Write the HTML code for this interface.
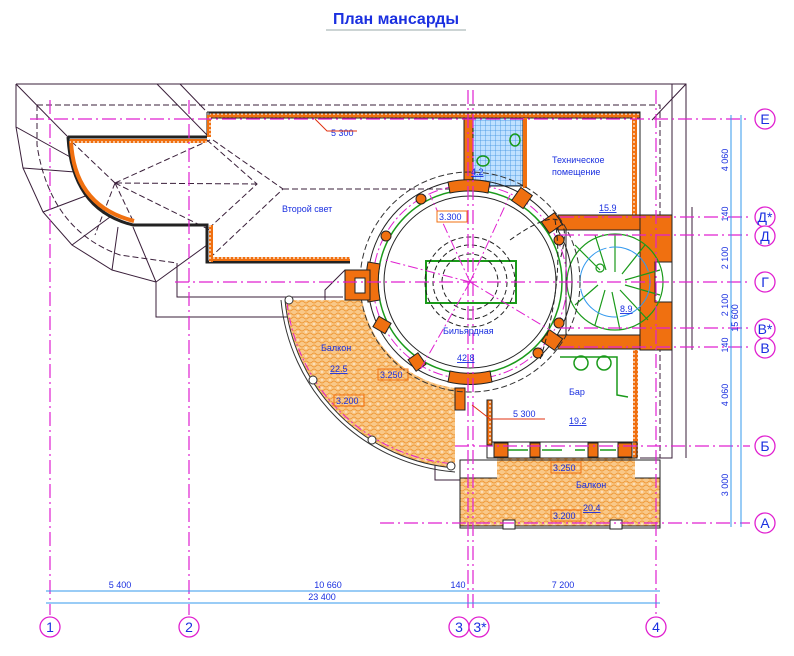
<!DOCTYPE html>
<html><head><meta charset="utf-8"><style>
html,body{margin:0;padding:0;background:#fff;}
svg{display:block;font-family:"Liberation Sans","DejaVu Sans",sans-serif;}
</style></head><body>
<svg width="794" height="656" viewBox="0 0 794 656" xmlns="http://www.w3.org/2000/svg">
<defs>
<pattern id="hat" width="8" height="8" patternUnits="userSpaceOnUse">
<rect width="8" height="8" fill="#f9c888"/>
<path d="M0,2 q2,-2 4,0 t4,0 M0,6 q2,2 4,0 t4,0" stroke="#ef9a3a" stroke-width="1" fill="none"/>
<circle cx="2" cy="4" r="0.7" fill="#fff"/>
</pattern>
<pattern id="grid" width="5" height="5" patternUnits="userSpaceOnUse">
<rect width="5" height="5" fill="#bfe0ff"/>
<path d="M0,0 H5 M0,0 V5" stroke="#3a8fe0" stroke-width="0.8"/>
</pattern>
<pattern id="wh" width="4" height="4" patternUnits="userSpaceOnUse">
<rect width="4" height="4" fill="#f07010"/><circle cx="2" cy="2" r="0.9" fill="#fff"/>
</pattern>
</defs>

<text x="396" y="24" font-size="16" font-weight="bold" fill="#1a2fe0" text-anchor="middle">План мансарды</text>
<line x1="326" y1="30" x2="466" y2="30" stroke="#9aa" stroke-width="1"/>

<!-- roof outline -->
<g fill="none" stroke="#3a1f3a" stroke-width="1">
<path d="M16,84 H686 V458 M16,84 V127 L23,168 L43,212 L72,245 L112,270 L156,282 V317 H325 V290 L345,270"/>
<path d="M16,84 L68,137 M157,84 L207,135 M180,84 L205,110 M686,84 L652,120 M156,282 L207,245"/>
<path d="M16,127 L72,158 M23,168 L75,172 M43,212 L88,195 M72,245 L110,217 M112,270 L118,227 M156,282 L133,227"/>
<path d="M177,263 V297 H343"/>
<path d="M435,458 V480 H460 M435,458 V425 H455"/>
<path d="M672,84 V215 M672,350 V458 H640 M692,207 V350"/>
</g>
<g fill="none" stroke="#3a1f3a" stroke-width="1" stroke-dasharray="6,3">
<path d="M37,105 H660 V458"/>
<path d="M37,105 L37,145 Q50,230 120,255 L177,263"/>
<path d="M207,140 L257,184 L207,230 M257,184 L115,183 M115,183 L70,140 M115,183 L95,235 M115,183 L135,225 M115,183 L210,140 M115,183 L210,230"/>
<path d="M213,140 L283,189 L213,255"/>
<path d="M283,189 H470"/>
</g>

<!-- main walls -->
<g stroke="#222" stroke-width="1">
<path d="M207,112 H640 V215 M207,112 V137 M640,112 V215" fill="none"/>
<rect x="209" y="113" width="431" height="5" fill="url(#wh)"/>
<path d="M68,137 H207 M68,137 Q72,210 133,225 H207 V262 H350" fill="none" stroke-width="3"/>
<path d="M71,141 Q74,206 134,221" fill="none" stroke="#f07010" stroke-width="4"/>
<rect x="70" y="139" width="137" height="4" fill="url(#wh)" stroke="none"/>
<rect x="209" y="225" width="4" height="37" fill="url(#wh)" stroke="none"/>
<rect x="213" y="257" width="137" height="4" fill="url(#wh)" stroke="none"/>
<rect x="207" y="115" width="4" height="22" fill="url(#wh)" stroke="none"/>
<rect x="632" y="115" width="5" height="100" fill="url(#wh)" stroke="none"/>
<rect x="633" y="350" width="5" height="108" fill="url(#wh)" stroke="none"/>
</g>

<rect x="473" y="118" width="50" height="68" fill="url(#grid)" stroke="#222"/>
<rect x="464" y="118" width="9" height="70" fill="#f07010" stroke="#222"/>
<rect x="523" y="118" width="4" height="70" fill="#f07010"/>
<ellipse cx="515" cy="140" rx="5" ry="6" fill="none" stroke="#1a9a1a" stroke-width="1.5"/>
<ellipse cx="483" cy="161" rx="6" ry="5" fill="none" stroke="#1a9a1a" stroke-width="1.5"/>

<!-- balcony left -->
<path d="M285,300 A186,186 0 0 0 455,468 L455,388 A108,108 0 0 1 362,300 Z" fill="url(#hat)" stroke="none"/>
<path d="M285,300 A186,186 0 0 0 455,468" fill="none" stroke="#333" stroke-width="1"/>
<path d="M281,300 A190,190 0 0 0 455,472" fill="none" stroke="#333" stroke-width="1"/>
<path d="M287,302 A183,183 0 0 0 455,464" fill="none" stroke="#e020d0" stroke-width="1" stroke-dasharray="8,3,2,3"/>
<circle cx="289" cy="300" r="4" fill="#fff" stroke="#333"/>
<circle cx="313" cy="380" r="4" fill="#fff" stroke="#333"/>
<circle cx="372" cy="440" r="4" fill="#fff" stroke="#333"/>
<circle cx="451" cy="466" r="4" fill="#fff" stroke="#333"/>

<!-- bottom balcony -->
<rect x="460" y="478" width="200" height="48" fill="url(#hat)" stroke="#222"/>
<rect x="497" y="458" width="138" height="22" fill="url(#hat)"/>
<rect x="460" y="460" width="200" height="68" fill="none" stroke="#222"/>
<rect x="503" y="520" width="12" height="9" fill="#fff" stroke="#222"/>
<rect x="610" y="520" width="12" height="9" fill="#fff" stroke="#222"/>

<g stroke="#222">
<rect x="487" y="442" width="150" height="16" fill="none"/>
<rect x="494" y="443" width="14" height="14" fill="#f07010"/>
<rect x="530" y="443" width="10" height="14" fill="#f07010"/>
<rect x="588" y="443" width="10" height="14" fill="#f07010"/>
<rect x="618" y="443" width="14" height="14" fill="#f07010"/>
<rect x="455" y="388" width="10" height="22" fill="#f07010"/>
<rect x="487" y="400" width="5" height="45" fill="url(#wh)"/>
</g>
<g stroke="#1a9a1a" stroke-width="1.5" fill="none">
<path d="M508,450 H528 M542,450 H562 M575,450 H585 M600,450 H616"/>
<circle cx="581" cy="363" r="7"/><circle cx="604" cy="363" r="7"/>
<path d="M560,357 H617 V395 L628,397"/>
</g>

<rect x="558" y="215" width="82" height="15" fill="#f07010" stroke="#222"/>
<rect x="558" y="335" width="82" height="14" fill="#f07010" stroke="#222"/>
<rect x="640" y="215" width="32" height="135" fill="#f07010" stroke="#222"/>
<rect x="566" y="230" width="74" height="105" fill="#fff" stroke="#222"/>
<rect x="655" y="262" width="17" height="40" fill="#fff" stroke="#222"/>
<g fill="none" stroke="#1a9a1a" stroke-width="1.2">
<circle cx="615" cy="282" r="48"/>
<circle cx="600" cy="268" r="4"/>
<path d="M615,234 L615,272 M645,245 L622,274 M660,270 L625,280 M660,295 L625,285 M648,320 L620,290 M620,330 L612,292 M595,325 L605,290 M575,305 L598,285 M575,245 L600,270 M595,235 L606,270"/>
</g>
<circle cx="615" cy="282" r="35" fill="none" stroke="#3399ee" stroke-width="1" stroke-dasharray="50,3"/>

<circle cx="470" cy="282" r="102" fill="none" stroke="#222" stroke-width="1"/>
<circle cx="470" cy="282" r="92" fill="none" stroke="#1a9a1a" stroke-width="1.5"/>
<circle cx="470" cy="282" r="86" fill="none" stroke="#222" stroke-width="1"/>
<circle cx="470" cy="282" r="97" fill="none" stroke="#e020d0" stroke-dasharray="10,3,2,3"/>
<circle cx="470" cy="282" r="110" fill="none" stroke="#333" stroke-dasharray="6,3"/>
<g fill="#f07010" stroke="#222">
<path d="M448,182 A101,101 0 0 1 490,182 L488,193 A90,90 0 0 0 450,193 Z"/>
<path d="M448,382 A101,101 0 0 0 492,382 L490,371 A90,90 0 0 1 450,371 Z"/>
<path d="M368,262 A103,103 0 0 0 368,302 L380,300 A90,90 0 0 1 380,264 Z"/>
<rect x="515" y="190" width="14" height="16" transform="rotate(35 522 198)"/>
<rect x="545" y="215" width="14" height="16" transform="rotate(55 552 223)"/>
<rect x="545" y="332" width="14" height="16" transform="rotate(-55 552 340)"/>
<rect x="411" y="355" width="12" height="14" transform="rotate(-35 417 362)"/>
<rect x="376" y="318" width="12" height="14" transform="rotate(-60 382 325)"/>
<rect x="345" y="270" width="25" height="30"/>
</g>
<g fill="#f07010" stroke="#222">
<circle cx="421" cy="199" r="5"/><circle cx="386" cy="236" r="5"/>
<circle cx="559" cy="240" r="5"/><circle cx="559" cy="323" r="5"/><circle cx="538" cy="353" r="5"/>
</g>
<rect x="355" y="278" width="10" height="15" fill="#fff" stroke="#222"/>
<rect x="426" y="261" width="90" height="42" fill="none" stroke="#1a9a1a" stroke-width="2"/>
<g fill="none" stroke="#222" stroke-dasharray="5,3">
<circle cx="470" cy="282" r="45"/><circle cx="470" cy="282" r="37"/><circle cx="470" cy="282" r="28"/>
<path d="M555,220 Q565,280 540,360 M510,240 Q580,190 560,260"/>
</g>
<g stroke="#e020d0" stroke-dasharray="10,3,2,3" fill="none">
<path d="M470,282 L430,195 M470,282 L510,195 M470,282 L385,260 M470,282 L550,330 M470,282 L420,370"/>
</g>

<g stroke="#e020d0" stroke-width="1.2" fill="none" stroke-dasharray="14,4,2,4">
<line x1="50" y1="100" x2="50" y2="615"/>
<line x1="189" y1="100" x2="189" y2="615"/>
<line x1="468" y1="90" x2="468" y2="612"/>
<line x1="473" y1="90" x2="473" y2="612"/>
<line x1="656" y1="90" x2="656" y2="615"/>
<line x1="30" y1="119" x2="750" y2="119"/>
<line x1="560" y1="217" x2="750" y2="217"/>
<line x1="560" y1="235" x2="750" y2="235"/>
<line x1="175" y1="282" x2="750" y2="282"/>
<line x1="560" y1="328" x2="750" y2="328"/>
<line x1="560" y1="347" x2="750" y2="347"/>
<line x1="455" y1="446" x2="750" y2="446"/>
<line x1="380" y1="523" x2="750" y2="523"/>
</g>
<g stroke="#e020d0" stroke-width="1.3" fill="#fff">
<circle cx="50" cy="627" r="10"/><circle cx="189" cy="627" r="10"/>
<circle cx="459" cy="627" r="10"/><circle cx="479" cy="627" r="10"/>
<circle cx="656" cy="627" r="10"/>
<circle cx="765" cy="119" r="10"/><circle cx="765" cy="217" r="10"/><circle cx="765" cy="236" r="10"/>
<circle cx="765" cy="282" r="10"/><circle cx="765" cy="329" r="10"/><circle cx="765" cy="348" r="10"/>
<circle cx="765" cy="446" r="10"/><circle cx="765" cy="523" r="10"/>
</g>
<g font-size="14" fill="#1a2fe0" text-anchor="middle">
<text x="50" y="632">1</text><text x="189" y="632">2</text><text x="459" y="632">3</text><text x="480" y="632">3*</text><text x="656" y="632">4</text>
<text x="765" y="124">Е</text><text x="765" y="222">Д*</text><text x="765" y="241">Д</text><text x="765" y="287">Г</text>
<text x="765" y="334">В*</text><text x="765" y="353">В</text><text x="765" y="451">Б</text><text x="765" y="528">А</text>
</g>

<g stroke="#3399ee" stroke-width="1">
<line x1="731" y1="115" x2="731" y2="527"/><line x1="741" y1="115" x2="741" y2="527"/>
<line x1="46" y1="591" x2="660" y2="591"/><line x1="46" y1="603" x2="660" y2="603"/>
</g>
<g font-size="9" fill="#1a2fe0" text-anchor="middle">
<text x="120" y="588">5 400</text><text x="328" y="588">10 660</text><text x="458" y="588">140</text><text x="563" y="588">7 200</text><text x="322" y="600">23 400</text>
<text transform="translate(728,160) rotate(-90)">4 060</text>
<text transform="translate(728,214) rotate(-90)">140</text>
<text transform="translate(728,258) rotate(-90)">2 100</text>
<text transform="translate(728,305) rotate(-90)">2 100</text>
<text transform="translate(738,318) rotate(-90)">15 600</text>
<text transform="translate(728,345) rotate(-90)">140</text>
<text transform="translate(728,395) rotate(-90)">4 060</text>
<text transform="translate(728,485) rotate(-90)">3 000</text>
</g>

<g font-size="9" fill="#1a2fe0">
<text x="282" y="212">Второй свет</text>
<text x="552" y="163">Техническое</text><text x="552" y="175">помещение</text>
<text x="443" y="334">Бильярдная</text>
<text x="321" y="351">Балкон</text>
<text x="569" y="395">Бар</text>
<text x="576" y="488">Балкон</text>
<g text-decoration="underline">
<text x="471" y="175">4.2</text><text x="599" y="211">15.9</text><text x="620" y="312">8.9</text>
<text x="457" y="361">42.8</text><text x="330" y="372">22.5</text><text x="569" y="424">19.2</text><text x="583" y="511">20.4</text>
</g>
<text x="331" y="136">5 300</text>
<text x="513" y="417">5 300</text>
</g>
<g fill="none" stroke="#e03010">
<path d="M315,119 L327,131 H357"/><path d="M472,405 L490,419 H545"/>
</g>
<g font-size="9" fill="#1a2fe0">
<rect x="437" y="211" width="30" height="11" fill="#fff" stroke="#f07010"/><text x="439" y="220">3.300</text>
<rect x="378" y="369" width="30" height="11" fill="none" stroke="#f07010"/><text x="380" y="378">3.250</text>
<rect x="334" y="395" width="30" height="11" fill="none" stroke="#f07010"/><text x="336" y="404">3.200</text>
<rect x="551" y="462" width="30" height="11" fill="none" stroke="#f07010"/><text x="553" y="471">3.250</text>
<rect x="551" y="510" width="30" height="11" fill="none" stroke="#f07010"/><text x="553" y="519">3.200</text>
</g>
</svg>
</body></html>
